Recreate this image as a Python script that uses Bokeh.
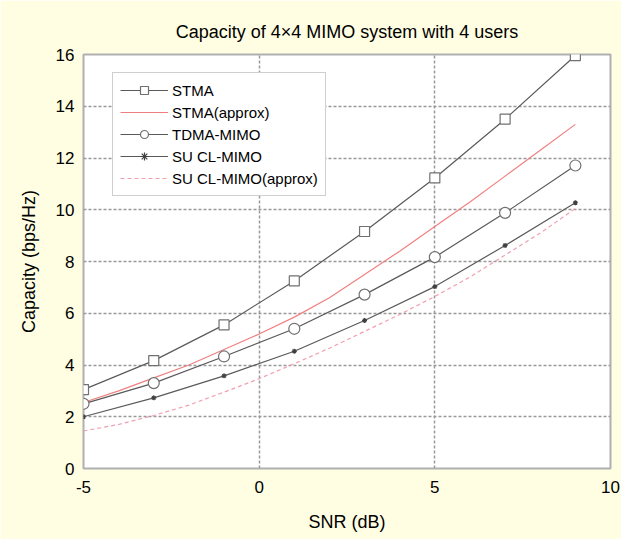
from bokeh.plotting import figure
from bokeh.models import Legend, LegendItem, FixedTicker, Range1d, PrintfTickFormatter
from bokeh.embed import file_html
from bokeh.resources import INLINE

# ---- data ----
snr_marks = [-5, -3, -1, 1, 3, 5, 7, 9]
stma = [3.05, 4.17, 5.55, 7.25, 9.16, 11.23, 13.5, 15.96]
tdma_mimo = [2.5, 3.3, 4.33, 5.4, 6.72, 8.17, 9.88, 11.71]
su_cl_mimo = [2.0, 2.73, 3.58, 4.53, 5.72, 7.03, 8.62, 10.27]

snr_fine = [-5, -4, -3, -2, -1, 0, 1, 2, 3, 4, 5, 6, 7, 8, 9]
stma_approx = [2.55, 3.0, 3.5, 4.0, 4.6, 5.2, 5.85, 6.6, 7.5, 8.4, 9.35, 10.3, 11.3, 12.3, 13.3]
su_cl_approx = [1.45, 1.7, 2.05, 2.45, 2.95, 3.47, 4.05, 4.65, 5.3, 5.95, 6.65, 7.4, 8.25, 9.1, 10.05]

x_ticks = [-5, 0, 5, 10]
y_ticks = [0, 2, 4, 6, 8, 10, 12, 14, 16]

FONT = "Liberation Sans"
BG = "#fffee3"
DARK = "#5a5a5a"

p = figure(width=621, height=539, output_backend="svg", toolbar_location=None,
           x_range=Range1d(-5, 10), y_range=Range1d(0, 16),
           title="Capacity of 4\u00d74 MIMO system with 4 users",
           min_border_left=83, min_border_right=11, min_border_top=54, min_border_bottom=71)

p.border_fill_color = BG
p.background_fill_color = "white"
p.outline_line_color = "#b0b0b0"
p.outline_line_width = 2

p.title.align = "center"
p.title.text_font = FONT
p.title.text_font_size = "18px"
p.title.text_font_style = "normal"
p.title.text_color = "black"
p.title.standoff = 25

for ax in (p.xaxis[0], p.yaxis[0]):
    ax.axis_line_color = None
    ax.major_tick_line_color = None
    ax.minor_tick_line_color = None
    ax.major_label_text_font = FONT
    ax.major_label_text_font_size = "17px"
    ax.major_label_text_color = "black"
    ax.axis_label_text_font = FONT
    ax.axis_label_text_font_size = "18px"
    ax.axis_label_text_font_style = "normal"
    ax.axis_label_text_color = "black"
    ax.formatter = PrintfTickFormatter(format="%d")

p.xaxis.ticker = FixedTicker(ticks=x_ticks)
p.yaxis.ticker = FixedTicker(ticks=y_ticks)
p.xaxis.axis_label = "SNR (dB)"
p.yaxis.axis_label = "Capacity (bps/Hz)"
p.xaxis.major_label_standoff = 6
p.yaxis.major_label_standoff = 3
p.xaxis.axis_label_standoff = 16
p.yaxis.axis_label_standoff = 14

for g in (p.xgrid[0], p.ygrid[0]):
    g.grid_line_color = "#999999"
    g.grid_line_dash = "3 2"
    g.grid_line_width = 1.5

# ---- series ----
l1 = p.line(snr_marks, stma, line_color=DARK, line_width=1.2)
m1 = p.scatter(snr_marks, stma, marker="square", size=10, fill_color="white",
               line_color="#707070", line_width=1.2)

l2 = p.line(snr_fine, stma_approx, line_color="#f08080", line_width=1.2)

l3 = p.line(snr_marks, tdma_mimo, line_color=DARK, line_width=1.2)
m3 = p.scatter(snr_marks, tdma_mimo, marker="circle", size=11, fill_color="white",
               line_color="#707070", line_width=1.2)

l4 = p.line(snr_marks, su_cl_mimo, line_color=DARK, line_width=1.2)
m4 = p.scatter(snr_marks, su_cl_mimo, marker="asterisk", size=5,
               line_color="#404040", line_width=1.2)

l5 = p.line(snr_fine, su_cl_approx, line_color="#f0a0b0", line_width=1.2, line_dash="4 3")

legend = Legend(items=[
    LegendItem(label="STMA", renderers=[l1, m1]),
    LegendItem(label="STMA(approx)", renderers=[l2]),
    LegendItem(label="TDMA-MIMO", renderers=[l3, m3]),
    LegendItem(label="SU CL-MIMO", renderers=[l4, m4]),
    LegendItem(label="SU CL-MIMO(approx)", renderers=[l5]),
], location=(29, 272))
legend.label_text_font = FONT
legend.label_text_font_size = "15px"
legend.label_text_color = "black"
legend.padding = 7
legend.spacing = 2
legend.label_height = 20
legend.glyph_height = 20
legend.glyph_width = 48
legend.label_standoff = 4
legend.margin = 0
legend.border_line_color = "#a0a0a0"
legend.border_line_width = 1.5
legend.background_fill_color = "white"
legend.background_fill_alpha = 1.0
p.add_layout(legend, "center")

open("out.html", "w").write(file_html(p, INLINE))
